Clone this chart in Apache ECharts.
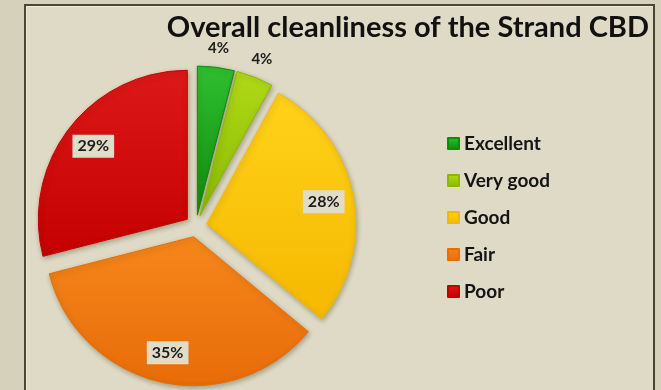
<!DOCTYPE html>
<html>
<head>
<meta charset="utf-8">
<script src="https://cdn.jsdelivr.net/npm/echarts@6/dist/echarts.min.js"></script>
<style>
  html, body { margin: 0; padding: 0; width: 661px; height: 390px; overflow: hidden; background: #d5d1ba; }
  #frame { position: absolute; left: 24px; top: 4px; width: 627px; height: 400px;
           border: 2px solid #4a4534; background: #dedac5; box-shadow: inset 1px 1px 0 #eeebdc; }
  #chart { position: absolute; left: 0; top: 0; width: 661px; height: 390px; }
</style>
</head>
<body>
<div id="frame"></div>
<div id="chart"></div>
<script>
// Survey answers and their share of responses (%)
const categories = ['Excellent', 'Very good', 'Good', 'Fair', 'Poor'];
const shares = [4, 4, 28, 35, 29];
const titleText = 'Overall cleanliness of the Strand CBD';

// light / dark tone of each slice
const sliceLight = ['#30bf30', '#b0da18', '#ffd21a', '#f5861c', '#dc1818'];
const sliceDark  = ['#0c8c0c', '#8ab800', '#f5b800', '#e86c08', '#c40000'];

const FONT = 'Lato, "Open Sans", sans-serif';
const CX = 196, CY = 226, R = 149, EXPLODE = 11;

function grad(i) {
  return new echarts.graphic.LinearGradient(0, 0, 0, 1, [
    { offset: 0, color: sliceLight[i] },
    { offset: 1, color: sliceDark[i] }
  ]);
}

const sliceStyle = i => ({
  color: grad(i),
  borderColor: sliceDark[i],
  borderWidth: 1,
  shadowBlur: 5,
  shadowOffsetX: 1,
  shadowOffsetY: 2,
  shadowColor: 'rgba(60,50,20,0.35)'
});

// the exploded pie itself
const pieData = categories.map((name, i) => ({
  name,
  value: shares[i],
  selected: true,
  itemStyle: sliceStyle(i),
  select: { itemStyle: sliceStyle(i) }
}));

// boxed percentage labels on the three large slices
const innerLabelData = categories.map((name, i) => ({
  name,
  value: shares[i],
  label: { show: shares[i] >= 10 }
}));

// plain percentage labels above the two thin slices
const outerLabelData = categories.map((name, i) => ({
  name,
  value: shares[i],
  label: { show: shares[i] < 10 }
}));

const labelSeries = (radius, data, boxed) => ({
  type: 'pie',
  center: [CX, CY],
  radius: [0, radius],
  startAngle: 90,
  silent: true,
  selectedMode: false,
  legendHoverLink: false,
  itemStyle: { color: 'rgba(0,0,0,0)', borderWidth: 0 },
  emphasis: { disabled: true },
  labelLine: { show: false },
  label: {
    position: 'inside',
    formatter: '{c}%',
    fontFamily: FONT,
    fontWeight: 'bold',
    fontSize: boxed ? 16 : 15,
    color: '#1c1c1c',
    backgroundColor: boxed ? '#e0dcc8' : 'transparent',
    padding: boxed ? [4, 5, 3, 5] : 0
  },
  z: 5,
  data
});

const chart = echarts.init(document.getElementById('chart'), null, { renderer: 'canvas' });
chart.setOption({
  animation: false,
  backgroundColor: 'transparent',
  title: {
    text: titleText,
    right: 12,
    top: 13,
    padding: 0,
    textStyle: { fontFamily: FONT, fontWeight: 'bold', fontSize: 29, color: '#111' }
  },
  legend: {
    orient: 'vertical',
    left: 447,
    top: 134,
    padding: 0,
    itemWidth: 11,
    itemHeight: 11,
    itemGap: 18,
    icon: 'rect',
    selectedMode: false,
    data: categories,
    textStyle: { fontFamily: FONT, fontWeight: 'bold', fontSize: 19, color: '#141414', lineHeight: 19 }
  },
  series: [
    {
      type: 'pie',
      center: [CX, CY],
      radius: [0, R],
      startAngle: 90,
      selectedMode: 'multiple',
      selectedOffset: EXPLODE,
      label: { show: false },
      labelLine: { show: false },
      emphasis: { disabled: true },
      data: pieData
    },
    labelSeries(2 * 127, innerLabelData, true),
    labelSeries(2 * 176, outerLabelData, false)
  ]
});
</script>
</body>
</html>
